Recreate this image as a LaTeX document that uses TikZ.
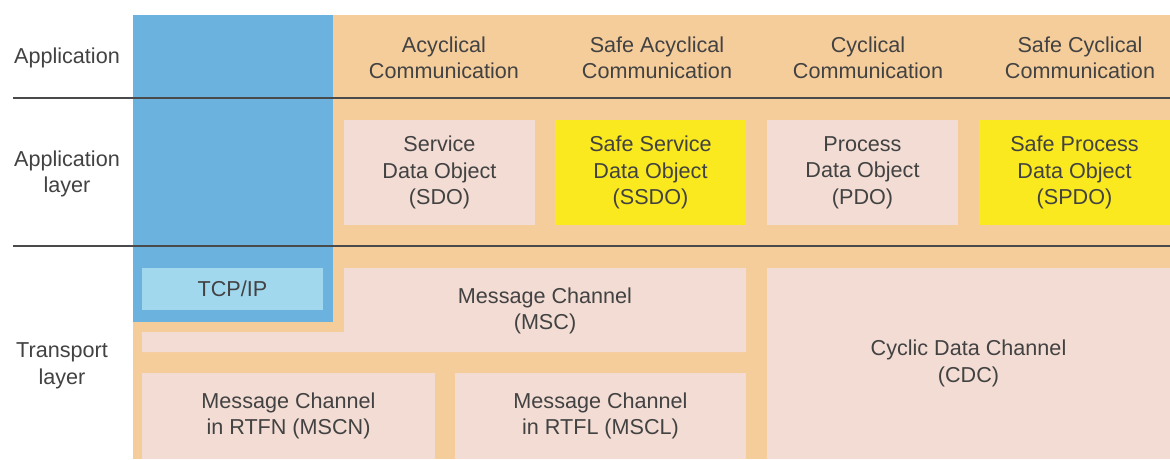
\documentclass[tikz,border=0pt]{standalone}
\usepackage{fontspec}
\setmainfont{Liberation Sans}
\definecolor{bgorange}{HTML}{F5CD9B}
\definecolor{boxpink}{HTML}{F2DCD4}
\definecolor{boxyellow}{HTML}{FAE91E}
\definecolor{colblue}{HTML}{6BB2DF}
\definecolor{tcpblue}{HTML}{A2D8EE}
\definecolor{txt}{HTML}{424242}
\definecolor{rule}{HTML}{4A4A4A}
\begin{document}
\begin{tikzpicture}[x=1pt,y=-1pt,
  every node/.style={text=txt,font=\fontsize{21.6}{26.5}\selectfont,align=center,inner sep=0pt,outer sep=0pt},
  cell/.style={anchor=north west,fill=boxpink},
  safecell/.style={anchor=north west,fill=boxyellow},
  lbl/.style={}]
\useasboundingbox (0,0) rectangle (1170,459);
\fill[white] (0,0) rectangle (1170,459);
% backgrounds
\fill[bgorange] (133,15) rectangle (1170,459);
\fill[colblue] (133,15) rectangle (333,322);
% row labels
\node[lbl] (lapp) at (67,58) {Application};
\node[lbl] (lapl) at (67,174) {Application\\layer};
\node[lbl] (ltra) at (62,366) {Transport\\layer};
% application row
\node (acy) at (444,58) {Acyclical\\Communication};
\node (sacy) at (657,58) {Safe Acyclical\\Communication};
\node (cyc) at (868,58) {Cyclical\\Communication};
\node (scyc) at (1080,58) {Safe Cyclical\\Communication};
% application layer
\node[cell,minimum width=191pt,minimum height=105pt] (sdo) at (344,120) {Service\\Data Object\\(SDO)};
\node[safecell,minimum width=191pt,minimum height=105pt] (ssdo) at (555,120) {Safe Service\\Data Object\\(SSDO)};
\node[cell,minimum width=191pt,minimum height=105pt] (pdo) at (767,120) {Process\\Data Object\\(PDO)};
\node[safecell,minimum width=191pt,minimum height=105pt] (spdo) at (979,120) {Safe Process\\Data Object\\(SPDO)};
% transport layer
\node[anchor=north west,fill=tcpblue,minimum width=181pt,minimum height=42pt] (tcp) at (142,268) {TCP/IP};
\fill[boxpink] (344,268) -- (746,268) -- (746,352) -- (142,352) -- (142,332) -- (344,332) -- cycle;
\node (msc) at (545,311) {Message Channel\\(MSC)};
\node[cell,minimum width=293pt,minimum height=86pt] (mscn) at (142,373) {Message Channel\\in RTFN (MSCN)};
\node[cell,minimum width=291pt,minimum height=86pt] (mscl) at (455,373) {Message Channel\\in RTFL (MSCL)};
\node[cell,minimum width=403pt,minimum height=191pt] (cdc) at (767,268) {Cyclic Data Channel\\(CDC)};
% rules
\draw[rule,line width=2.4pt] (13,98) -- (1170,98);
\draw[rule,line width=2.4pt] (13,246) -- (1170,246);
\end{tikzpicture}
\end{document}
